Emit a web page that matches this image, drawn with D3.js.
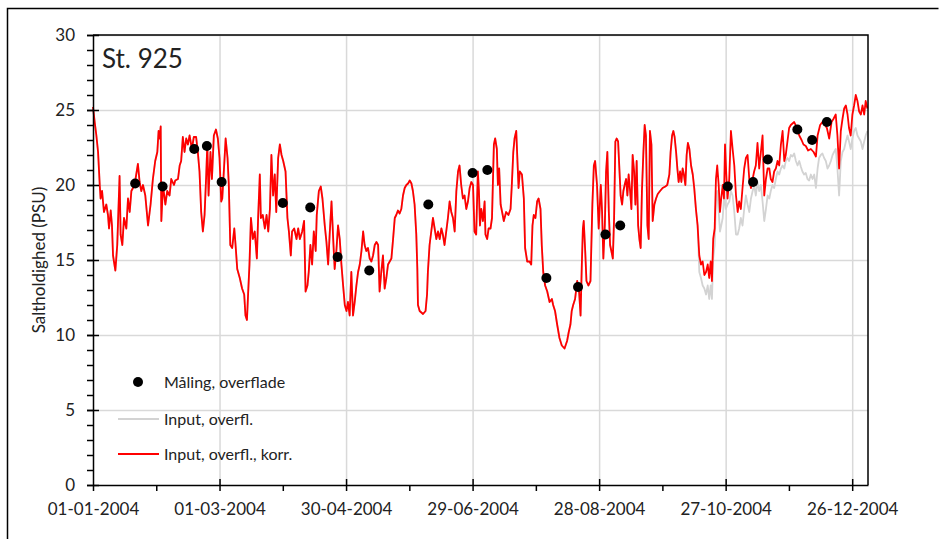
<!DOCTYPE html>
<html>
<head>
<meta charset="utf-8">
<script src="https://cdn.jsdelivr.net/npm/d3@7"></script>
<style>
body { margin: 0; background: #fff; }
text { font-family: Lato, "Open Sans", sans-serif; fill: #222; }
</style>
</head>
<body>
<div id="chart"></div>
<script>
// day numbers counted from 01-01-2004, salinity in PSU
var inputKorr = [
[0,25.2],[0.8,24.2],[1.6,23.3],[2.4,22.2],[3.2,20.0],[3.6,19.1],[4.3,19.6],[5.2,18.2],[6.3,18.7],[7.1,18.0],
[7.6,17.1],[8.4,18.3],[9.0,17.3],[9.5,15.3],[10.6,14.3],[11.5,16.0],[12.6,20.6],[13.1,16.7],[13.9,16.0],[14.7,17.8],
[15.8,17.1],[16.6,19.1],[17.4,18.2],[18.2,19.6],[19.7,20.0],[21.3,21.4],[22.1,20.2],[22.9,19.6],[23.7,20.0],[24.8,19.3],
[26.1,17.3],[27.3,18.7],[28.4,20.4],[29.5,21.6],[30.5,22.2],[31.1,23.6],[31.6,23.1],[32.1,23.9],[32.4,17.6],[33.2,20.0],
[34.3,18.7],[35.2,19.6],[36.3,19.3],[37.1,20.4],[38.4,20.0],[39.0,20.3],[40.3,20.4],[41.1,21.3],[41.8,21.6],[42.6,23.2],
[43.4,22.2],[44.2,23.1],[45.0,22.7],[45.8,23.3],[46.9,22.4],[47.8,23.2],[48.9,23.2],[49.7,22.2],[50.5,20.9],[51.3,18.2],
[52.1,16.9],[52.9,18.0],[53.7,20.7],[54.2,22.7],[54.8,19.3],[55.7,22.2],[56.4,20.4],[57.3,23.3],[58.3,23.7],[59.2,23.1],
[60.0,21.8],[60.8,18.9],[61.3,19.1],[62.2,21.3],[62.9,23.1],[63.8,21.8],[64.4,20.0],[65.1,16.0],[66.0,15.8],[67.0,17.1],
[67.6,16.0],[68.4,14.4],[69.6,13.8],[70.7,13.1],[71.7,12.7],[72.3,11.3],[73.0,11.0],[73.6,12.9],[74.2,14.7],[74.9,17.8],
[75.8,16.4],[76.7,16.9],[77.7,15.1],[78.3,17.8],[79.1,20.7],[79.6,17.8],[80.5,18.0],[81.5,17.1],[82.3,18.0],[83.1,16.9],
[83.9,18.4],[84.6,22.0],[85.4,19.3],[86.2,20.7],[86.9,18.2],[87.8,21.8],[88.6,22.7],[89.4,22.0],[90.2,21.6],[91.3,20.9],
[92.2,17.8],[92.9,16.9],[93.8,15.3],[94.4,16.9],[95.4,17.1],[96.5,16.4],[97.3,17.1],[98.1,16.4],[99.2,16.9],[100.1,17.6],
[100.8,12.9],[101.7,13.3],[102.3,14.2],[103.1,16.0],[103.9,14.7],[104.7,16.9],[105.6,15.6],[106.1,18.0],[107.1,19.6],[108.0,19.9],
[108.8,19.1],[109.9,17.3],[110.7,16.2],[111.5,14.7],[112.3,16.9],[113.1,18.9],[113.9,16.4],[114.6,14.4],[115.4,15.6],[116.2,17.3],
[117.0,16.4],[117.8,14.7],[118.6,13.3],[119.4,12.0],[120.2,11.6],[120.9,12.2],[121.7,11.3],[122.5,14.2],[123.3,11.3],[124.1,12.2],
[124.9,13.3],[125.7,14.2],[126.5,14.7],[127.3,15.6],[128.1,16.9],[128.8,16.0],[129.6,15.6],[130.4,15.8],[131.2,15.1],[132.0,14.9],
[132.8,15.3],[133.6,16.0],[134.4,16.2],[135.2,16.0],[135.9,12.9],[136.7,14.2],[137.5,15.3],[138.3,13.1],[139.1,13.8],[139.9,14.7],
[140.7,14.9],[141.5,15.1],[142.3,16.4],[143.1,17.8],[143.8,18.0],[144.6,18.3],[145.4,18.1],[146.2,18.4],[147.0,19.3],[147.8,19.8],
[148.6,20.0],[149.4,20.1],[150.2,20.3],[151.0,20.1],[151.7,19.6],[152.5,18.7],[153.3,16.7],[153.8,14.4],[154.1,12.0],[154.9,11.6],
[156.5,11.4],[157.7,11.6],[158.4,12.7],[158.8,14.2],[159.6,16.0],[160.4,16.9],[161.2,17.8],[162.0,17.1],[162.8,16.4],[163.6,16.9],
[164.4,16.4],[165.2,17.1],[165.9,16.7],[166.7,16.0],[167.5,16.9],[168.3,17.8],[169.1,18.9],[169.9,18.2],[170.7,17.8],[171.5,16.9],
[172.3,19.6],[173.1,20.9],[173.8,21.3],[174.6,20.0],[175.4,19.1],[176.2,19.3],[177.0,18.4],[177.8,18.9],[178.6,19.8],[179.4,20.2],
[180.2,20.0],[180.9,16.9],[181.7,16.7],[182.5,20.9],[183.0,19.6],[183.5,17.3],[184.1,18.4],[184.9,17.6],[185.7,18.9],[186.1,16.7],
[186.9,16.4],[187.6,17.1],[188.5,17.1],[189.2,17.8],[189.6,20.0],[190.1,22.7],[190.7,23.1],[191.5,22.4],[192.0,20.0],[192.6,21.1],
[193.3,18.7],[194.0,18.2],[194.8,17.6],[195.9,18.2],[197.0,18.0],[198.0,18.4],[198.6,20.0],[199.3,22.2],[199.9,23.1],[200.7,23.6],
[201.1,22.2],[201.8,19.8],[202.4,20.9],[203.4,20.7],[204.3,19.1],[204.9,15.8],[205.9,14.9],[207.0,14.9],[207.8,14.7],[208.4,17.3],
[209.0,18.0],[209.8,17.8],[210.6,18.9],[211.3,19.1],[212.2,18.4],[212.8,16.0],[213.5,14.2],[214.4,13.3],[215.4,12.9],[216.5,12.2],
[217.6,12.4],[218.2,12.0],[219.1,11.6],[220.1,10.7],[221.2,9.8],[222.3,9.3],[223.6,9.1],[224.8,9.6],[225.6,10.2],[226.4,10.7],
[227.0,11.6],[227.7,12.0],[228.6,12.4],[229.6,13.6],[230.5,12.9],[231.2,11.3],[231.8,14.7],[232.3,17.1],[232.7,17.6],[233.4,15.6],
[234.0,13.6],[234.9,13.3],[235.9,13.6],[236.8,18.7],[237.5,21.3],[238.1,21.6],[239.0,20.0],[239.8,17.1],[240.8,20.0],[241.4,18.2],
[242.0,15.1],[242.7,17.3],[243.3,20.9],[243.9,22.2],[244.6,18.2],[245.2,16.0],[245.8,15.6],[246.5,15.1],[247.1,17.8],[247.7,22.9],
[248.3,23.1],[249.0,22.9],[249.6,21.1],[250.2,19.3],[250.9,18.7],[251.5,19.6],[252.1,20.0],[252.8,20.4],[253.4,19.3],[254.0,20.7],
[254.7,19.6],[255.3,18.4],[255.9,22.0],[256.6,20.9],[257.2,18.7],[257.8,21.6],[258.5,17.3],[259.1,16.4],[259.7,15.8],[260.3,19.6],
[261.0,22.2],[261.6,24.0],[262.2,23.3],[262.9,17.3],[263.5,16.4],[264.1,23.6],[264.8,22.7],[265.4,17.6],[266.2,18.7],[267.0,19.1],
[267.8,19.4],[268.9,19.6],[270.1,19.8],[271.4,19.9],[272.3,20.0],[273.3,20.7],[273.9,22.2],[274.6,23.3],[275.2,23.6],[275.8,23.2],
[276.5,22.2],[277.1,21.1],[277.7,20.2],[278.4,20.9],[279.0,20.2],[279.6,21.1],[280.2,20.7],[280.9,20.0],[281.5,22.0],[282.1,22.8],
[282.8,22.4],[283.6,21.3],[284.4,20.7],[285.1,19.8],[285.9,18.4],[286.7,17.3],[287.5,15.3],[288.3,14.7],[289.1,14.9],[289.9,14.0],
[290.7,14.2],[291.5,14.7],[292.2,13.8],[292.9,14.9],[293.5,13.6],[294.1,16.4],[294.8,17.1],[295.4,20.4],[296.0,21.3],[296.7,20.0],
[297.3,18.2],[297.9,19.1],[298.6,20.0],[299.2,19.1],[299.7,22.7],[300.3,20.7],[300.9,19.1],[301.7,20.4],[302.5,23.6],[303.3,22.4],
[304.1,21.3],[304.9,19.3],[305.7,18.2],[306.4,18.9],[307.2,18.4],[308.0,19.8],[308.8,21.1],[309.6,21.8],[310.4,22.0],[311.2,20.4],
[312.0,19.8],[312.8,20.4],[313.5,20.9],[314.3,21.3],[315.1,22.8],[315.9,21.1],[316.7,22.2],[317.5,23.3],[318.3,19.3],[319.1,20.4],
[319.9,21.1],[320.7,21.1],[321.4,20.4],[322.2,20.2],[323.0,20.9],[323.8,21.1],[324.6,21.6],[325.4,21.3],[326.2,22.7],[327.0,23.6],
[327.8,21.6],[328.5,22.0],[329.3,22.9],[330.1,23.8],[330.9,24.0],[332.5,24.2],[333.8,23.8],[334.9,23.3],[336.0,23.0],[336.9,22.7],
[338.0,22.6],[339.1,22.3],[340.4,22.4],[341.7,22.2],[342.8,21.9],[343.6,23.3],[344.8,24.0],[345.9,24.2],[346.7,24.1],[348.0,23.8],
[349.1,23.1],[350.2,24.2],[351.1,24.4],[352.2,24.7],[353.0,23.3],[353.8,21.1],[354.6,23.6],[355.4,24.4],[356.2,25.1],[357.0,25.3],
[357.8,24.7],[358.5,23.8],[359.3,23.3],[360.1,24.7],[360.9,25.3],[361.7,26.0],[362.5,25.6],[363.3,24.9],[364.1,24.7],[364.9,25.3],
[365.7,24.7],[366.4,25.6],[367.2,25.1]
];

// uncorrected input: same as the corrected series until mid October, then these values
var inputSplitDay = 287;
var inputLate = [
[287.5,14.2],[288.3,13.8],[289.1,13.3],[289.9,13.1],[290.7,12.7],[291.5,13.3],[292.2,12.4],[292.9,13.3],[293.5,12.4],[294.1,15.1],
[294.8,16.0],[295.4,18.9],[296.0,19.6],[296.7,18.2],[297.3,16.9],[297.9,17.3],[298.6,17.8],[299.3,19.3],[300.1,18.4],[300.9,18.7],
[301.7,18.9],[302.5,19.6],[303.3,19.3],[304.1,18.2],[304.9,16.7],[305.7,16.7],[306.4,17.1],[307.2,17.8],[308.0,17.3],[308.8,18.4],
[309.6,19.3],[310.4,18.7],[311.2,18.2],[312.0,19.1],[312.8,19.6],[313.5,20.0],[314.3,19.3],[315.1,20.2],[315.9,19.6],[316.7,20.0],
[317.5,18.9],[318.3,17.6],[319.1,18.4],[319.9,19.3],[320.7,19.1],[321.4,19.6],[322.2,20.0],[323.0,19.8],[323.8,20.4],[324.6,20.9],
[325.4,20.7],[326.2,21.1],[327.0,21.3],[327.8,21.1],[328.5,21.6],[329.3,21.8],[330.1,21.6],[330.9,22.0],[331.7,21.9],[332.5,22.1],
[333.3,21.6],[334.1,21.3],[334.9,21.6],[335.7,21.2],[336.4,20.9],[337.2,20.7],[338.0,20.8],[338.8,20.4],[339.6,20.3],[340.4,20.7],
[341.2,20.4],[342.0,20.7],[342.8,19.8],[343.6,21.1],[344.3,21.8],[345.1,22.0],[345.9,22.1],[346.7,21.8],[347.5,21.6],[348.3,21.1],
[349.1,21.3],[349.9,21.6],[350.7,22.0],[351.4,22.2],[352.2,22.4],[353.0,21.1],[353.8,19.3],[354.6,21.6],[355.4,22.2],[356.2,22.4],
[357.0,22.9],[357.8,23.3],[358.5,22.9],[359.3,22.4],[360.1,23.1],[360.9,23.6],[361.7,23.8],[362.5,23.3],[363.3,23.1],[364.1,22.9],
[364.9,22.4],[365.7,22.9],[366.4,23.3],[367.2,23.6]
];

var malingDates = ["2004-01-21","2004-02-03","2004-02-18","2004-02-24","2004-03-02","2004-03-31","2004-04-13","2004-04-26",
    "2004-05-11","2004-06-08","2004-06-29","2004-07-06","2004-08-03","2004-08-18","2004-08-31","2004-09-07",
    "2004-10-28","2004-11-09","2004-11-16","2004-11-30","2004-12-07","2004-12-14"];
var malingPSU = [20.1,19.9,22.4,22.6,20.2,18.8,18.5,15.2,14.3,18.7,20.8,21.0,13.8,13.2,16.7,17.3,19.9,20.2,21.7,23.7,23.0,24.2];

var yTicks = [0,5,10,15,20,25,30];
var xTickDays = [0,60,120,180,240,300,360];
var xMinorDays = [30,90,150,210,270,330];
var axisEndDay = 367.5;
var title = "St. 925";
var yLabel = "Saltholdighed (PSU)";
var legendLabels = ["Måling, overflade", "Input, overfl.", "Input, overfl., korr."];

var start = new Date(Date.UTC(2004, 0, 1));
function dayToDate(d) { return new Date(start.getTime() + d * 864e5); }
var parseDate = d3.utcParse("%Y-%m-%d");

var margin = {top: 35, right: 77, bottom: 54, left: 93};
var width = 945 - margin.left - margin.right;
var height = 539 - margin.top - margin.bottom;

var x = d3.scaleUtc()
    .domain([start, dayToDate(axisEndDay)])
    .range([0, width]);

var y = d3.scaleLinear()
    .domain([0, 30])
    .range([height, 0]);

var root = d3.select("#chart").append("svg")
    .attr("width", 945)
    .attr("height", 539);

// outer frame (top and left edge visible)
root.append("path")
    .attr("d", "M7.5,539 V8.5 H938.5")
    .attr("fill", "none")
    .attr("stroke", "#000")
    .attr("stroke-width", 1.5);

var svg = root.append("g")
    .attr("transform", "translate(" + margin.left + "," + margin.top + ")");

// gridlines
svg.append("g")
    .call(d3.axisLeft(y).tickValues(yTicks.slice(1)).tickSize(-width).tickFormat(""))
    .call(g => g.select(".domain").remove())
    .selectAll("line").attr("stroke", "#d9d9d9").attr("stroke-width", 1.3);

svg.append("g")
    .attr("transform", "translate(0," + height + ")")
    .call(d3.axisBottom(x).tickValues(xTickDays.slice(1).map(dayToDate)).tickSize(-height).tickFormat(""))
    .call(g => g.select(".domain").remove())
    .selectAll("line").attr("stroke", "#d9d9d9").attr("stroke-width", 1.3);

var line = d3.line()
    .x(d => x(dayToDate(d[0])))
    .y(d => y(d[1]));

var inputSeries = inputKorr.filter(d => d[0] < inputSplitDay).concat(inputLate);

svg.append("path")
    .datum(inputSeries)
    .attr("fill", "none")
    .attr("stroke", "#d3d3d3")
    .attr("stroke-width", 1.8)
    .attr("stroke-linejoin", "round")
    .attr("d", line);

svg.append("path")
    .datum(inputKorr)
    .attr("fill", "none")
    .attr("stroke", "#ff0000")
    .attr("stroke-width", 1.8)
    .attr("stroke-linejoin", "round")
    .attr("d", line);

svg.selectAll(".dot")
    .data(malingDates.map((d, i) => ({date: parseDate(d), v: malingPSU[i]})))
    .enter().append("circle")
    .attr("class", "dot")
    .attr("cx", d => x(d.date))
    .attr("cy", d => y(d.v))
    .attr("r", 5)
    .attr("fill", "#000");

// plot frame: top and right
svg.append("path")
    .attr("d", "M0,0 H" + width + " V" + height)
    .attr("fill", "none")
    .attr("stroke", "#000")
    .attr("stroke-width", 1.5);

// y axis: minor ticks, major ticks crossing the axis, labels
svg.append("g")
    .call(d3.axisLeft(y).tickValues(d3.range(0, 31)).tickSize(6).tickFormat("").tickSizeOuter(0))
    .call(g => g.select(".domain").remove());

svg.append("g")
    .call(d3.axisRight(y).tickValues(yTicks).tickSize(6).tickFormat(""))
    .call(g => g.select(".domain").remove());

svg.append("g")
    .call(d3.axisLeft(y).tickValues(yTicks).tickSize(6).tickPadding(12).tickSizeOuter(0))
    .call(g => g.selectAll("text").style("font-size", "17px").attr("fill", "#222"))
    .call(g => g.select(".domain").attr("stroke-width", 1.5));

// x axis
svg.append("g")
    .attr("transform", "translate(0," + height + ")")
    .call(d3.axisBottom(x).tickValues(xMinorDays.map(dayToDate)).tickSize(6).tickFormat(""))
    .call(g => g.select(".domain").remove());

svg.append("g")
    .attr("transform", "translate(0," + height + ")")
    .call(d3.axisTop(x).tickValues(xTickDays.slice(1).map(dayToDate)).tickSize(6).tickFormat(""))
    .call(g => g.select(".domain").remove());

svg.append("g")
    .attr("transform", "translate(0," + height + ")")
    .call(d3.axisBottom(x).tickValues(xTickDays.map(dayToDate)).tickSize(6).tickPadding(12)
        .tickFormat(d3.utcFormat("%d-%m-%Y")).tickSizeOuter(0))
    .call(g => g.selectAll("text").style("font-size", "17px").attr("fill", "#222"))
    .call(g => g.select(".domain").attr("stroke-width", 1.5));

svg.selectAll(".tick line").attr("stroke-width", 1.5);
svg.selectAll("g").filter(function() { return false; });

// title
svg.append("text")
    .attr("x", 9)
    .attr("y", 33)
    .style("font-size", "26px")
    .attr("fill", "#000")
    .text(title);

// y label
svg.append("text")
    .attr("transform", "translate(-48," + (height / 2) + ") rotate(-90)")
    .attr("text-anchor", "middle")
    .style("font-size", "17px")
    .text(yLabel);

// legend
var legend = svg.append("g").attr("transform", "translate(25,347)");
legend.append("circle").attr("cx", 20).attr("cy", 0).attr("r", 5).attr("fill", "#000");
legend.append("line").attr("x1", 0).attr("x2", 41).attr("y1", 37).attr("y2", 37)
    .attr("stroke", "#d3d3d3").attr("stroke-width", 1.8);
legend.append("line").attr("x1", 0).attr("x2", 41).attr("y1", 72).attr("y2", 72)
    .attr("stroke", "#ff0000").attr("stroke-width", 1.8);
legend.selectAll(".ltext")
    .data(legendLabels)
    .enter().append("text")
    .attr("class", "ltext")
    .attr("x", 46)
    .attr("y", (d, i) => [0, 37, 72][i])
    .attr("dy", "0.35em")
    .style("font-size", "16px")
    .text(d => d);
</script>
</body>
</html>
